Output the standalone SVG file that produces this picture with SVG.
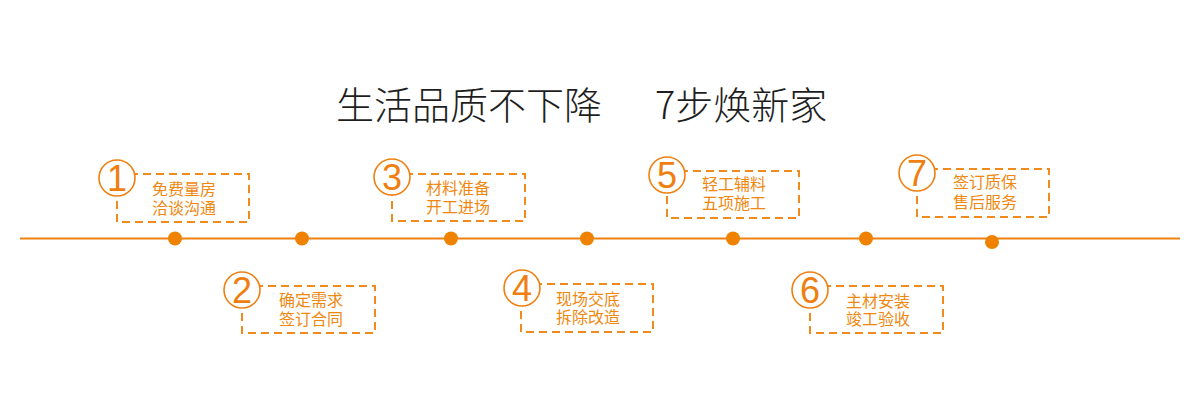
<svg xmlns="http://www.w3.org/2000/svg" width="1200" height="414" viewBox="0 0 1200 414">
<style>
.title{font-family:"Noto Sans CJK SC","Noto Sans",sans-serif;font-size:38px;font-weight:300;fill:#1e1e1e}
.lbl{font-family:"Noto Sans CJK SC","Noto Sans",sans-serif;font-size:16px;fill:#f0870f}
.box{fill:none;stroke:#f08a1c;stroke-width:2;stroke-dasharray:8 5}
.ring{fill:#fff;stroke:#ee7f10;stroke-width:1.6}
.num{font-family:"Liberation Sans",Arial,sans-serif;font-size:36px;fill:#ee7f10;text-anchor:middle}
.dot{fill:#ef8200}
.line{stroke:#ef8012;stroke-width:2;fill:none}
</style>
<rect width="1200" height="414" fill="#fff"/>
<g id="title">
<text class="title" x="336" y="119">生活品质不下降<tspan x="655">7步焕新家</tspan></text>
</g>
<g id="connectors">
<line class="line" x1="20" y1="238.5" x2="1180" y2="238.5"/>
<circle class="dot" cx="175" cy="238.5" r="7"/>
<circle class="dot" cx="302" cy="238.5" r="7"/>
<circle class="dot" cx="451" cy="238.5" r="7"/>
<circle class="dot" cx="587" cy="238.5" r="7"/>
<circle class="dot" cx="733" cy="238.5" r="7"/>
<circle class="dot" cx="866" cy="238.5" r="7"/>
<circle class="dot" cx="992" cy="242" r="7"/>
</g>
<g id="step1">
<rect class="box" x="117" y="174" width="132" height="48"/>
<circle class="ring" cx="117" cy="178" r="18"/>
<text class="num" x="117" y="191">1</text>
<text class="lbl" x="152" y="195">免费量房<tspan x="152" dy="19">洽谈沟通</tspan></text>
</g>
<g id="step2">
<rect class="box" x="242" y="286" width="133" height="47"/>
<circle class="ring" cx="242" cy="290" r="18"/>
<text class="num" x="242" y="303">2</text>
<text class="lbl" x="279" y="306">确定需求<tspan x="279" dy="19">签订合同</tspan></text>
</g>
<g id="step3">
<rect class="box" x="392" y="174" width="133" height="47"/>
<circle class="ring" cx="392" cy="177" r="18"/>
<text class="num" x="392" y="190">3</text>
<text class="lbl" x="426" y="194">材料准备<tspan x="426" dy="19">开工进场</tspan></text>
</g>
<g id="step4">
<rect class="box" x="521" y="284" width="132" height="48"/>
<circle class="ring" cx="522" cy="288" r="18"/>
<text class="num" x="522" y="301">4</text>
<text class="lbl" x="556" y="305">现场交底<tspan x="556" dy="18">拆除改造</tspan></text>
</g>
<g id="step5">
<rect class="box" x="667" y="171" width="132" height="47"/>
<circle class="ring" cx="667" cy="175" r="18"/>
<text class="num" x="667" y="188">5</text>
<text class="lbl" x="702" y="190">轻工辅料<tspan x="702" dy="19">五项施工</tspan></text>
</g>
<g id="step6">
<rect class="box" x="810" y="286" width="133" height="47"/>
<circle class="ring" cx="810" cy="290" r="18"/>
<text class="num" x="810" y="303">6</text>
<text class="lbl" x="846" y="307">主材安装<tspan x="846" dy="18">竣工验收</tspan></text>
</g>
<g id="step7">
<rect class="box" x="917" y="169" width="132" height="48"/>
<circle class="ring" cx="917" cy="173" r="18"/>
<text class="num" x="917" y="186">7</text>
<text class="lbl" x="953" y="188">签订质保<tspan x="953" dy="20">售后服务</tspan></text>
</g>
</svg>
